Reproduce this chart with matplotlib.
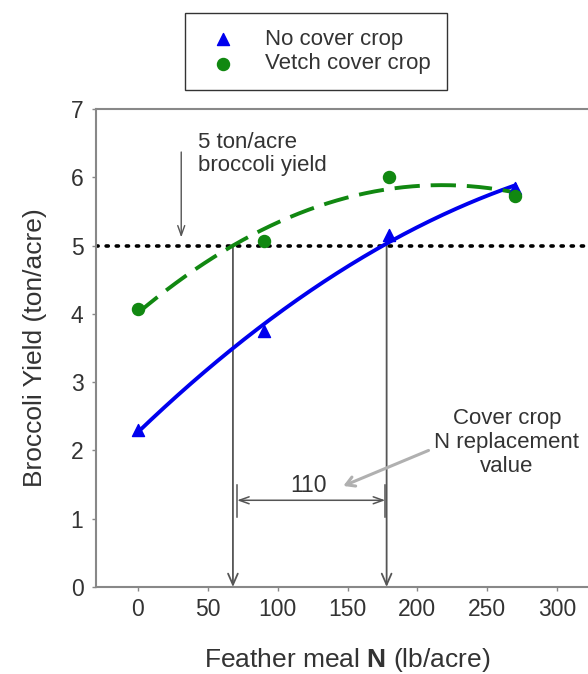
import numpy as np
import matplotlib
matplotlib.use("Agg")
import matplotlib.pyplot as plt

plt.rcParams['font.family'] = ['Liberation Sans', 'DejaVu Sans']
plt.rcParams['mathtext.fontset'] = 'custom'
plt.rcParams['mathtext.rm'] = 'Liberation Sans'
plt.rcParams['mathtext.bf'] = 'Liberation Sans:bold'

# Feather meal N rates (lb/acre) and broccoli yields (ton/acre)
n_rate = [0, 90, 180, 270]
yield_no_cover = [2.30, 3.75, 5.15, 5.85]
yield_vetch = [4.07, 5.07, 6.00, 5.72]

# target yield and the N rates where each curve reaches it
target_yield = 5.0
n_at_target = [68, 178]
replacement_value = 110

TEXT = '#333333'
ARROW = '#555555'

fig = plt.figure(figsize=(5.88, 6.74), dpi=100)
ax = fig.add_axes([96 / 588, 87 / 674, 503 / 588, 478 / 674])

# quadratic response curves
xs = np.linspace(0, 270, 200)
fit_none = np.polyfit(n_rate, yield_no_cover, 2)
fit_vetch = np.polyfit(n_rate, yield_vetch, 2)
ax.plot(xs, np.polyval(fit_none, xs), color='#0000ee', lw=2.8, zorder=3)
ax.plot(xs, np.polyval(fit_vetch, xs), color='#118811', lw=2.8,
        dashes=(6.5, 2.8), zorder=3)

ax.scatter(n_rate, yield_no_cover, marker='^', s=75, color='#0000ee',
           zorder=4, label='No cover crop')
ax.scatter(n_rate, yield_vetch, marker='o', s=75, color='#118811',
           zorder=4, label='Vetch cover crop')

# 5 ton/acre reference line
ax.axhline(target_yield, color='black', lw=2.6, ls=(0, (0.6, 2.2)),
           dash_capstyle='round', zorder=2)

# drop arrows from the target line to the x axis
for xn in n_at_target:
    ax.annotate('', xy=(xn, 0.0), xytext=(xn, target_yield),
                arrowprops=dict(arrowstyle='->,head_length=0.8,head_width=0.35',
                                color=ARROW, lw=1.3, shrinkA=0, shrinkB=0),
                zorder=2)

# dimension bar for the replacement value
x0, x1 = n_at_target[0] + 3, n_at_target[1] - 1
y_dim = 1.27
ax.annotate('', xy=(x0, y_dim), xytext=(x1, y_dim),
            arrowprops=dict(arrowstyle='<->,head_length=0.7,head_width=0.25',
                            color=ARROW, lw=1.1, shrinkA=0, shrinkB=0))
for xe in (x0, x1):
    ax.plot([xe, xe], [1.02, 1.50], color=ARROW, lw=1.1)
ax.text((x0 + x1) / 2 - 2, 1.48, str(replacement_value), ha='center',
        va='center', fontsize=16.5, color=TEXT)

# annotation: target yield
ax.annotate('', xy=(31, 5.12), xytext=(31, 6.37),
            arrowprops=dict(arrowstyle='->,head_length=0.7,head_width=0.25',
                            color=ARROW, lw=1.0, shrinkA=0, shrinkB=0))
ax.text(43, 6.34, '5 ton/acre\nbroccoli yield', ha='left', va='center',
        fontsize=16, color=TEXT, linespacing=1.15)

# annotation: replacement value
ax.text(264, 2.12, 'Cover crop\nN replacement\nvalue', ha='center',
        va='center', fontsize=16, color=TEXT, linespacing=1.2)
ax.annotate('', xy=(147, 1.48), xytext=(208, 2.0),
            arrowprops=dict(arrowstyle='->,head_length=0.6,head_width=0.35',
                            color='#b0b0b0', lw=2.2, shrinkA=0, shrinkB=0))

ax.set_xlim(-30, 330)
ax.set_ylim(0, 7)
ax.set_xticks([0, 50, 100, 150, 200, 250, 300])
ax.set_yticks(range(0, 8))
ax.tick_params(axis='both', direction='out', length=3, width=1,
               color='#888888', labelsize=16.5, labelcolor=TEXT, pad=6)
ax.tick_params(axis='x', pad=5)
for side in ('left', 'bottom', 'top'):
    ax.spines[side].set_color('#888888')
    ax.spines[side].set_linewidth(1.5)
ax.spines['right'].set_visible(False)

ax.set_xlabel('Feather meal $\\mathbf{N}$ (lb/acre)', fontsize=19,
              color=TEXT, labelpad=18)
ax.set_ylabel('Broccoli Yield (ton/acre)', fontsize=19, color=TEXT,
              labelpad=17)

leg = fig.legend(loc='upper left', bbox_to_anchor=(185 / 588, 1 - 13 / 674),
                 frameon=True, fancybox=False, fontsize=16, borderpad=0.72,
                 handletextpad=0.9, labelspacing=0.15, borderaxespad=0,
                 handlelength=2.0, labelcolor=TEXT)
leg.get_frame().set_edgecolor('black')
leg.get_frame().set_linewidth(1.0)

fig.savefig('out.png', dpi=100)
